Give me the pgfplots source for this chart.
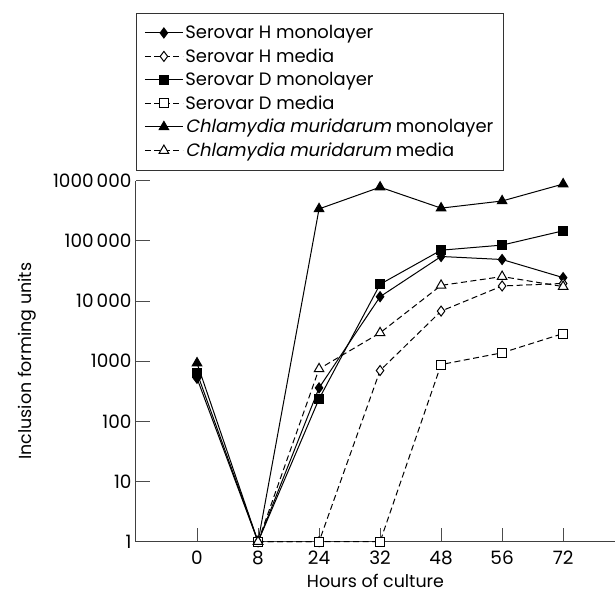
\documentclass[border=0pt]{standalone}
\usepackage{fontspec}
\setmainfont{Poppins}[AutoFakeSlant=0.2]
\usepackage{pgfplots}
\pgfplotsset{compat=1.18}
\begin{document}
\begin{tikzpicture}
\useasboundingbox (-136bp,-50.3bp) rectangle (479bp,541.7bp);
\begin{axis}[
  scale only axis, width=479bp, height=361bp,
  ymode=log, ymin=1, ymax=1000000,
  xmin=-1, xmax=6.85,
  axis lines*=left,
  xtick={0,...,6}, xticklabels={0,8,24,32,48,56,72},
  ytick={1,10,100,1000,10000,100000,1000000},
  yticklabels={1,10,100,1000,10\,000,100\,000,1000\,000},
  yminorticks=false,
  tick align=inside, major tick length=14bp,
  tick style={line width=0.9bp, color=black!70},
  axis line style={line width=1bp, color=black!75},
  tick label style={font=\fontsize{18.5}{22}\selectfont},
  xticklabel style={yshift=-6bp},
  yticklabel style={xshift=-1bp},
  /pgf/number format/assume math mode=true,
  xlabel={Hours of culture}, ylabel={Inclusion forming units},
  label style={font=\fontsize{17.5}{21}\selectfont},
  xlabel style={yshift=-2bp},
  ylabel style={yshift=10bp},
  clip=false,
  legend style={at={(0,1)}, anchor=south west, yshift=9.7bp,
    draw=black!80, line width=0.8bp,
    font=\fontsize{18}{22}\selectfont, inner xsep=8bp, inner ysep=10.5bp,
    row sep=4.5bp},
  legend cell align=left,
  legend image code/.code={\draw[mark repeat=2,mark phase=2] plot coordinates {(0bp,0bp) (19bp,0bp) (38bp,0bp)};},
  every axis plot/.append style={line width=1bp, black},
  solidline/.style={solid},
  dashline/.style={dash pattern=on 6bp off 3.5bp},
]
% Serovar H monolayer
\addplot[solidline, mark=diamond*, mark size=5bp, mark options={solid, fill=black}]
  coordinates {(0,520) (1,1) (2,360) (3,11800) (4,55000) (5,49000) (6,24500)};
\addlegendentry{Serovar H monolayer}
% Serovar H media
\addplot[dashline, mark=diamond*, mark size=5bp, mark options={solid, fill=white}]
  coordinates {(1,1) (2,1) (3,700) (4,6800) (5,17800) (6,19600)};
\addlegendentry{Serovar H media}
% Serovar D monolayer
\addplot[solidline, mark=square*, mark size=4.5bp, mark options={solid, fill=black}]
  coordinates {(0,640) (1,1) (2,236) (3,19000) (4,70000) (5,85000) (6,147000)};
\addlegendentry{Serovar D monolayer}
% Serovar D media
\addplot[dashline, mark=square*, mark size=4.5bp, mark options={solid, fill=white}]
  coordinates {(1,1) (2,1) (3,1) (4,880) (5,1380) (6,2880)};
\addlegendentry{Serovar D media}
% C. muridarum monolayer
\addplot[solidline, mark=triangle*, mark size=5.5bp, mark options={solid, fill=black}]
  coordinates {(0,930) (1,1) (2,340000) (3,780000) (4,350000) (5,460000) (6,880000)};
\addlegendentry{\textit{Chlamydia muridarum} monolayer\hspace{18bp}}
% C. muridarum media
\addplot[dashline, mark=triangle*, mark size=5.5bp, mark options={solid, fill=white}]
  coordinates {(1,1) (2,745) (3,2960) (4,18200) (5,25500) (6,17400)};
\addlegendentry{\textit{Chlamydia muridarum} media}
\end{axis}
\end{tikzpicture}
\end{document}
